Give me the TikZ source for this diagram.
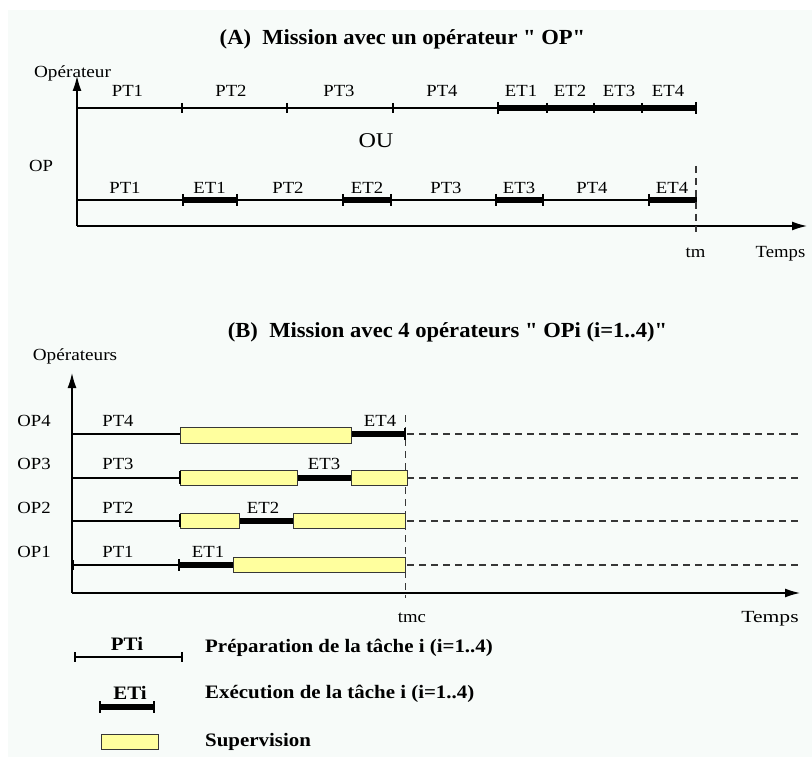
\documentclass[tikz,border=0pt]{standalone}
\usepackage{fontspec}
\setmainfont{Liberation Serif}[Ligatures=TeXOff]
\usetikzlibrary{arrows.meta}
\definecolor{bgc}{RGB}{247,251,249}
\definecolor{supy}{RGB}{255,255,158}
\definecolor{dgray}{RGB}{55,55,55}
\newcommand\rl[1]{\scalebox{1.1}[1]{#1}}
\newcommand\tl[1]{\scalebox{1.05}[1]{#1}}
\newcommand\gl[1]{\scalebox{1.1}[1]{#1}}
\newcommand\exseg[3]{%
  \draw[thickl] (#1,#3) -- (#2,#3);
  \draw[bar] (#1,#3-6) -- (#1,#3+6);
  \draw[bar] (#2,#3-6) -- (#2,#3+6);}
\begin{document}
\begin{tikzpicture}[x=1pt,y=-1pt,
  lbl/.style={inner sep=0pt, anchor=base, font=\fontsize{17}{19}\selectfont},
  axl/.style={inner sep=0pt, anchor=base, font=\fontsize{17}{19}\selectfont},
  ttl/.style={inner sep=0pt, anchor=base, font=\fontsize{21.5}{24}\selectfont\bfseries},
  leg/.style={inner sep=0pt, anchor=base west, font=\fontsize{19}{22}\selectfont\bfseries},
  legc/.style={inner sep=0pt, anchor=base, font=\fontsize{19}{22}\selectfont\bfseries},
  axis/.style={line width=1.4pt, -{Latex[length=15pt,width=9pt]}},
  thinl/.style={line width=1.2pt},
  thickl/.style={line width=6pt},
  bar/.style={line width=1.8pt},
  tickm/.style={line width=1.3pt},
  dashl/.style={dgray, line width=1.2pt, dash pattern=on 7pt off 5pt},
  supbox/.style={fill=supy, draw=dgray, line width=1pt},
]
\useasboundingbox (0,0) rectangle (812,757);
\fill[bgc] (8,10) rectangle (812,757);

% ---------------- (A) ----------------
\node[ttl] (titA) at (402.5,45) {\tl{(A)\ \ Mission avec un opérateur " OP"}};
\node[axl] (opA) at (72.5,78) {\scalebox{1.13}[1]{Opérateur}};
\node[lbl] (opAl) at (41,172) {\rl{OP}};
\node[lbl,font=\fontsize{21}{24}\selectfont] (ou) at (376,148) {\scalebox{1.15}[1]{OU}};

\coordinate (Ao) at (77,226);
\coordinate (Ay) at (77,76);
\coordinate (Ax) at (807,226);
\draw[axis] (Ao) -- (Ay);
\draw[axis] (Ao) -- (Ax);

% top row
\coordinate (Ta) at (77,108);
\coordinate (Tb) at (498,108);
\draw[thinl] (Ta) -- (Tb);
\foreach \x in {182,287,393} \draw[tickm] (\x,103) -- (\x,113);
\draw[thickl] (498,108) -- (696,108);
\foreach \x in {498,696} \draw[bar] (\x,102) -- (\x,114);
\foreach \x in {547,594,642} \draw[tickm] (\x,103) -- (\x,113);
\node[lbl] (t1) at (127.5,97) {\rl{PT1}};
\node[lbl] (t2) at (231,97) {\rl{PT2}};
\node[lbl] (t3) at (339,97) {\rl{PT3}};
\node[lbl] (t4) at (442,97) {\rl{PT4}};
\node[lbl] (t5) at (521,97) {\rl{ET1}};
\node[lbl] (t6) at (570,97) {\rl{ET2}};
\node[lbl] (t7) at (619,97) {\rl{ET3}};
\node[lbl] (t8) at (668,97) {\rl{ET4}};

% bottom row
\coordinate (Ba) at (77,200);
\coordinate (Bb) at (696,200);
\draw[thinl] (Ba) -- (Bb);
\exseg{183}{237}{200}
\exseg{343}{391}{200}
\exseg{496}{543}{200}
\exseg{649}{696}{200}
\node[lbl] (b1) at (125,194) {\rl{PT1}};
\node[lbl] (b2) at (209.5,194) {\rl{ET1}};
\node[lbl] (b3) at (288,194) {\rl{PT2}};
\node[lbl] (b4) at (367,194) {\rl{ET2}};
\node[lbl] (b5) at (446,194) {\rl{PT3}};
\node[lbl] (b6) at (519,194) {\rl{ET3}};
\node[lbl] (b7) at (592,194) {\rl{PT4}};
\node[lbl] (b8) at (672,194) {\rl{ET4}};

\coordinate (tmT) at (696,166);
\coordinate (tmB) at (696,232);
\draw[dashl] (tmT) -- (tmB);
\node[lbl] (tm) at (695.5,257) {\rl{tm}};
\node[lbl] (tpsA) at (780.5,257) {\rl{Temps}};

% ---------------- (B) ----------------
\node[ttl] (titB) at (447.5,337) {\tl{(B)\ \ Mission avec 4 opérateurs " OPi (i=1..4)"}};
\node[axl] (opB) at (75,360) {\scalebox{1.13}[1]{Opérateurs}};

\coordinate (Bo) at (72,593);
\coordinate (By) at (72,373);
\coordinate (Bx) at (800,593);
\draw[axis] (Bo) -- (By);
\draw[axis] (Bo) -- (Bx);

% dashed continuations
\foreach \y in {434,478,521,565} \draw[dashl] (407,\y) -- (798,\y);
\coordinate (tmcT) at (405.5,415);
\coordinate (tmcB) at (405.5,598);
\draw[dashl] (tmcT) -- (tmcB);

% OP4
\draw[thinl] (72,434) -- (180,434);
\draw[thickl] (351,434) -- (405,434);
\draw[bar] (405,428) -- (405,440);
\draw[supbox] (180,427) rectangle (351,443);
% OP3
\draw[thinl] (72,478) -- (180,478);
\draw[thickl] (297,478) -- (351,478);
\draw[supbox] (180,470) rectangle (297,485);
\draw[supbox] (351,470) rectangle (407,485);
\draw[bar] (180,471) -- (180,484);
% OP2
\draw[thinl] (72,521) -- (180,521);
\draw[thickl] (239,521) -- (293,521);
\draw[supbox] (180,513) rectangle (239,528);
\draw[supbox] (293,513) rectangle (405,528);
\draw[bar] (180,514) -- (180,527);
% OP1
\draw[thinl] (72,565) -- (179,565);
\draw[bar] (73,560) -- (73,570);
\draw[thickl] (179,565) -- (233,565);
\draw[bar] (179,559) -- (179,571);
\draw[supbox] (233,557) rectangle (405,572);

\node[lbl] (o4) at (34,426) {\rl{OP4}};
\node[lbl] (o3) at (34,469) {\rl{OP3}};
\node[lbl] (o2) at (34,513) {\rl{OP2}};
\node[lbl] (o1) at (34,557) {\rl{OP1}};
\node[lbl] (p4) at (118,426) {\rl{PT4}};
\node[lbl] (p3) at (118,469) {\rl{PT3}};
\node[lbl] (p2) at (118,513) {\rl{PT2}};
\node[lbl] (p1) at (118,557) {\rl{PT1}};
\node[lbl] (e4) at (380,426) {\rl{ET4}};
\node[lbl] (e3) at (324,469) {\rl{ET3}};
\node[lbl] (e2) at (263,513) {\rl{ET2}};
\node[lbl] (e1) at (208,557) {\rl{ET1}};

\node[lbl] (tmc) at (412,622) {\rl{tmc}};
\node[lbl] (tpsB) at (770,622) {\scalebox{1.27}[1]{Temps}};

% ---------------- legend ----------------
\coordinate (LPa) at (75,657);
\coordinate (LPb) at (182,657);
\draw[thinl] (LPa) -- (LPb);
\draw[tickm] (75,652) -- (75,662);
\draw[tickm] (182,652) -- (182,662);
\node[legc] (lpt) at (127,650) {\gl{PTi}};
\node[leg] (lptx) at (205,652) {\gl{Préparation de la tâche i (i=1..4)}};

\exseg{100}{154}{707}
\node[legc] (let) at (130,699) {\gl{ETi}};
\node[leg] (letx) at (205,698) {\gl{Exécution de la tâche i (i=1..4)}};

\draw[supbox] (101,734) rectangle (158,749);
\node[leg] (lsx) at (205,746) {\gl{Supervision}};
\end{tikzpicture}
\end{document}
